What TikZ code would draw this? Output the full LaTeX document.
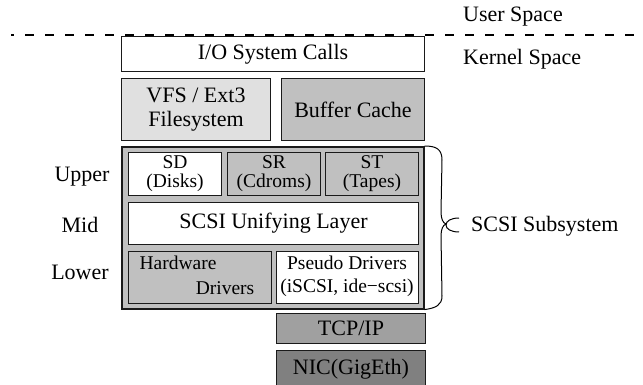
\documentclass[tikz,border=0pt]{standalone}
\usepackage{fontspec}
\setmainfont{Liberation Serif}
\definecolor{lightfill}{HTML}{E0E0E0}
\definecolor{midfill}{HTML}{C0C0C0}
\definecolor{tcpfill}{HTML}{A0A0A0}
\definecolor{nicfill}{HTML}{808080}
\definecolor{edge}{HTML}{1A1A1A}
\begin{document}
\begin{tikzpicture}[x=1pt,y=-1pt,
  box/.style={draw=edge, line width=1pt, inner sep=0pt, anchor=north west, align=center},
  big/.style={font=\fontsize{22}{25}\selectfont},
  small/.style={font=\fontsize{19.5}{19}\selectfont},
  lbl/.style={inner sep=0pt, font=\fontsize{22}{25}\selectfont},
  slbl/.style={inner sep=0pt, font=\fontsize{19.5}{19}\selectfont}]
\useasboundingbox (0,0) rectangle (643,385);

% top level boxes
\node[box, big, fill=white, minimum width=303pt, minimum height=35pt] (io) at (121,36) {I/O System Calls};
\node[box, big, fill=lightfill, minimum width=149pt, minimum height=62pt] (vfs) at (121,78) {VFS / Ext3\\[-1pt]Filesystem};
\node[box, big, fill=midfill, minimum width=143pt, minimum height=62pt] (bc) at (281,78) {Buffer Cache};

% SCSI subsystem container
\node[box, fill=midfill, line width=1.6pt, minimum width=302pt, minimum height=162pt] (scsi) at (121,146) {};
\node[box, small, fill=white, minimum width=93pt, minimum height=43pt] (sd) at (128,152) {SD\\(Disks)};
\node[box, small, fill=midfill, minimum width=93pt, minimum height=43pt] (sr) at (227,152) {SR\\(Cdroms)};
\node[box, small, fill=midfill, minimum width=93pt, minimum height=43pt] (st) at (325,152) {ST\\(Tapes)};
\node[box, big, fill=white, minimum width=290pt, minimum height=42pt] (ul) at (128,202) {SCSI Unifying Layer};
\node[box, fill=midfill, minimum width=143pt, minimum height=52pt] (hw) at (128,251) {};
\node[slbl] (hw1) at (178,263) {Hardware};
\node[slbl] (hw2) at (225,288) {Drivers};
\node[box, fill=white, minimum width=142pt, minimum height=52pt] (ps) at (276,251) {};
\node[slbl] (ps1) at (347,263) {Pseudo Drivers};
\node[slbl] (ps2) at (347,288) {(iSCSI, ide\textminus scsi)};

% network stack
\node[box, big, fill=tcpfill, minimum width=149pt, minimum height=30pt] (tcp) at (276,313) {TCP/IP};
\node[box, big, fill=nicfill, minimum width=149pt, minimum height=38pt] (nic) at (276,350) {NIC(GigEth)};

% side labels
\node[lbl] (upper) at (82,177) {Upper};
\node[lbl] (mid) at (80,225) {Mid};
\node[lbl] (lower) at (80,272) {Lower};
\node[lbl, anchor=west] (user) at (463,17) {User Space};
\node[lbl, anchor=west] (kernel) at (463,59) {Kernel Space};
\node[lbl, anchor=west] (subsys) at (471,226) {SCSI Subsystem};

% user/kernel boundary
\coordinate (dl) at (11,35);
\coordinate (dr) at (643,35);
\draw[line width=2pt, dash pattern=on 9pt off 11pt, dash phase=6pt] (dl) -- (dr);

% brace
\draw[line width=1pt] (scsi.north east) .. controls (436,146) and (442,149) .. (442,160)
  -- (441,212) .. controls (441,219) and (443,223) .. (446,224)
  .. controls (443,225) and (441,229) .. (441,236)
  -- (442,296) .. controls (442,305) and (436,308) .. (scsi.south east);
\draw[line width=1pt] (459,218) .. controls (451,218) and (446,221) .. (446,225)
  .. controls (446,229) and (451,232) .. (459,232);
\end{tikzpicture}
\end{document}
